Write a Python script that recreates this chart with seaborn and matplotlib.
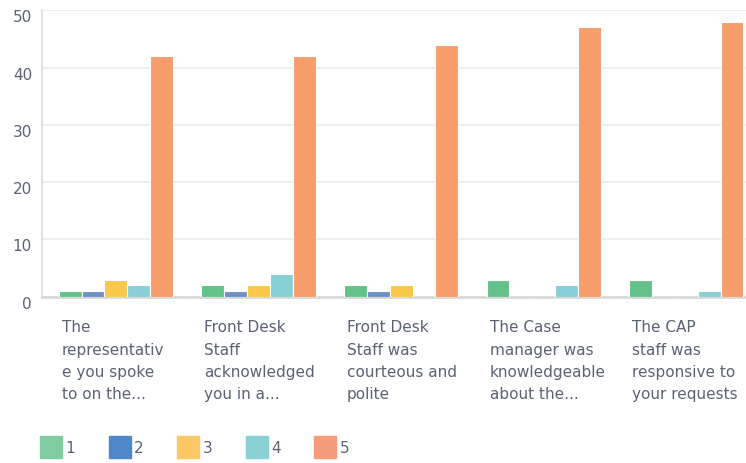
import seaborn as sns
import pandas as pd
import matplotlib.pyplot as plt
import matplotlib.transforms as mtransforms
from matplotlib.lines import Line2D

questions = [
    "The\nrepresentativ\ne you spoke\nto on the...",
    "Front Desk\nStaff\nacknowledged\nyou in a...",
    "Front Desk\nStaff was\ncourteous and\npolite",
    "The Case\nmanager was\nknowledgeable\nabout the...",
    "The CAP\nstaff was\nresponsive to\nyour requests",
]
ratings = ["1", "2", "3", "4", "5"]
counts_1 = [1, 2, 2, 3, 3]
counts_2 = [1, 1, 1, 0, 0]
counts_3 = [3, 2, 2, 0, 0]
counts_4 = [2, 4, 0, 2, 1]
counts_5 = [42, 42, 44, 47, 48]

bar_colors = ["#62c28a", "#6f8fc5", "#f9c74c", "#88cfd6", "#f89d6c"]
legend_colors = ["#7fcca0", "#4e88c8", "#fcc865", "#8ad1d6", "#f79c7a"]
text_color = "#5b6273"

rows = []
for r, vals in zip(ratings, [counts_1, counts_2, counts_3, counts_4, counts_5]):
    for q, v in zip(questions, vals):
        rows.append({"question": q, "rating": r, "count": v})
df = pd.DataFrame(rows)

sns.set_style("white")
fig = plt.figure(figsize=(7.46, 4.63), dpi=100)
ax = fig.add_axes([0.056, 0.359, 0.944, 0.619])

sns.barplot(data=df, x="question", y="count", hue="rating", order=questions,
            hue_order=ratings, palette=bar_colors, saturation=1, width=0.80,
            ax=ax, edgecolor="white", linewidth=0.8, legend=False, zorder=3)

ax.set_ylim(0, 50)
ax.set_xlim(-0.519, 4.418)
ax.set_yticks([0, 10, 20, 30, 40, 50])
ax.yaxis.grid(True, color="#ebebeb", linewidth=1.2, zorder=0)
ax.set_xlabel("")
ax.set_ylabel("")
for s in ["top", "right"]:
    ax.spines[s].set_visible(False)
ax.spines["left"].set_color("#dedede")
ax.spines["left"].set_linewidth(1.2)
ax.spines["bottom"].set_color("#d9d9d9")
ax.spines["bottom"].set_linewidth(2)
ax.tick_params(axis="both", length=0, labelsize=11, colors=text_color)
ax.tick_params(axis="y", pad=7)
ax.tick_params(axis="x", pad=17)

offset = mtransforms.ScaledTranslation(-0.54, 0, fig.dpi_scale_trans)
for lbl in ax.get_xticklabels():
    lbl.set_horizontalalignment("left")
    lbl.set_verticalalignment("top")
    lbl.set_linespacing(1.6)
    lbl.set_transform(lbl.get_transform() + offset)
for lbl in ax.get_yticklabels():
    lbl.set_transform(lbl.get_transform() + mtransforms.ScaledTranslation(0, -0.06, fig.dpi_scale_trans))

handles = [Line2D([], [], marker="s", linestyle="", markersize=16,
                  markerfacecolor=c, markeredgecolor=c) for c in legend_colors]
leg = fig.legend(handles, ratings, loc="center left", bbox_to_anchor=(0.037, 0.032),
                 ncol=5, frameon=False, fontsize=11, handletextpad=0.3,
                 columnspacing=2.25, handlelength=1.3)
for t in leg.get_texts():
    t.set_color(text_color)

fig.savefig("out.png", dpi=100)
